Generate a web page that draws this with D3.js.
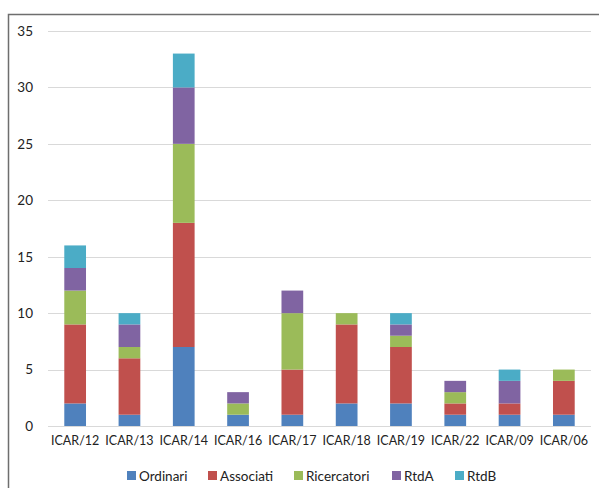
<!DOCTYPE html>
<html>
<head>
<meta charset="utf-8">
<script src="https://cdn.jsdelivr.net/npm/d3@7"></script>
<style>
  html, body { margin: 0; padding: 0; background: #fff; }
  svg { display: block; font-family: Lato, "Open Sans", sans-serif; }
</style>
</head>
<body>
<svg id="chart" width="599" height="488"></svg>
<script>
// Categories (SSD) and counts per role
const categories = ["ICAR/12", "ICAR/13", "ICAR/14", "ICAR/16", "ICAR/17", "ICAR/18", "ICAR/19", "ICAR/22", "ICAR/09", "ICAR/06"];
const seriesNames = ["Ordinari", "Associati", "Ricercatori", "RtdA", "RtdB"];
const ordinari    = [2, 1, 7, 1, 1, 2, 2, 1, 1, 1];
const associati   = [7, 5, 11, 0, 4, 7, 5, 1, 1, 3];
const ricercatori = [3, 1, 7, 1, 5, 1, 1, 1, 0, 1];
const rtdA        = [2, 2, 5, 1, 2, 0, 1, 1, 2, 0];
const rtdB        = [2, 1, 3, 0, 0, 0, 1, 0, 1, 0];
const yTicks = [0, 5, 10, 15, 20, 25, 30, 35];
const colors = ["#4F81BD", "#C0504D", "#9BBB59", "#8064A2", "#4BACC6"];

const seriesValues = [ordinari, associati, ricercatori, rtdA, rtdB];
const rows = categories.map((c, i) => {
  const r = { cat: c };
  seriesNames.forEach((s, k) => { r[s] = seriesValues[k][i]; });
  return r;
});

const svg = d3.select("#chart");

// Outer frame (cropped at right and bottom)
svg.append("path")
  .attr("d", "M8.5,600 L8.5,14.5 L600,14.5")
  .attr("fill", "none")
  .attr("stroke", "#6e6e6e")
  .attr("stroke-width", 1.5);

const plot = { left: 48, right: 591, top: 31, bottom: 426 };

const x = d3.scaleBand()
  .domain(categories)
  .range([plot.left, plot.right])
  .paddingInner(0.6)
  .paddingOuter(0.3);

const y = d3.scaleLinear()
  .domain([0, 35])
  .range([plot.bottom, plot.top]);

// Gridlines
svg.append("g")
  .selectAll("line")
  .data(yTicks)
  .join("line")
  .attr("x1", plot.left)
  .attr("x2", plot.right)
  .attr("y1", d => Math.round(y(d)) + 0.5)
  .attr("y2", d => Math.round(y(d)) + 0.5)
  .attr("stroke", "#d9d9d9")
  .attr("stroke-width", 1.2);

// Y axis labels
const yAxis = d3.axisLeft(y).tickValues(yTicks).tickSize(0).tickPadding(0);
const gy = svg.append("g").attr("transform", "translate(33,0)").call(yAxis);
gy.select(".domain").remove();
gy.selectAll("text")
  .attr("font-family", "Lato, 'Open Sans', sans-serif")
  .attr("font-size", 13.5)
  .attr("fill", "#222");

// Stacked bars
const stack = d3.stack().keys(seriesNames);
const layers = stack(rows);

svg.append("g")
  .selectAll("g")
  .data(layers)
  .join("g")
  .attr("fill", (d, i) => colors[i])
  .selectAll("rect")
  .data(d => d.filter(p => p[1] - p[0] > 0))
  .join("rect")
  .attr("x", d => x(d.data.cat))
  .attr("width", x.bandwidth())
  .attr("y", d => y(d[1]))
  .attr("height", d => y(d[0]) - y(d[1]));

// X axis labels
const xAxis = d3.axisBottom(x).tickSize(0).tickPadding(0);
const gx = svg.append("g").attr("transform", `translate(0,${plot.bottom + 10})`).call(xAxis);
gx.select(".domain").remove();
gx.selectAll("text")
  .attr("font-family", "Lato, 'Open Sans', sans-serif")
  .attr("font-size", 12.5)
  .attr("fill", "#222");

// Legend
const legendX = [127, 208, 294, 392, 455];
const legend = svg.append("g")
  .selectAll("g")
  .data(seriesNames)
  .join("g")
  .attr("transform", (d, i) => `translate(${legendX[i]},471)`);
legend.append("rect")
  .attr("width", 9)
  .attr("height", 9)
  .attr("fill", (d, i) => colors[i]);
legend.append("text")
  .attr("x", 12)
  .attr("y", 9.5)
  .attr("font-size", 13.5)
  .attr("fill", "#222")
  .text(d => d);
</script>
</body>
</html>
